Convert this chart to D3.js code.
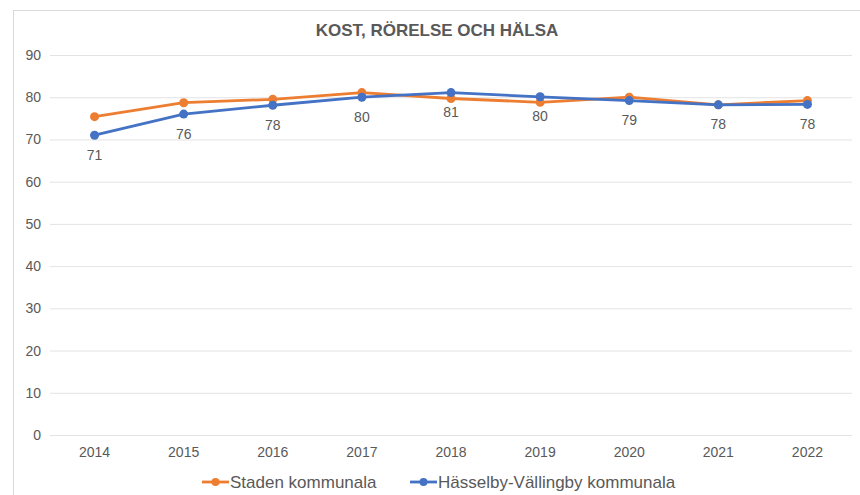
<!DOCTYPE html>
<html>
<head>
<meta charset="utf-8">
<script src="https://cdn.jsdelivr.net/npm/d3@7"></script>
<style>
  body { margin: 0; background: #fff; }
  svg { display: block; font-family: "Liberation Sans", Arial, sans-serif; }
</style>
</head>
<body>
<div id="chart"></div>
<script>
// chart data
const years = ['2014', '2015', '2016', '2017', '2018', '2019', '2020', '2021', '2022'];
const stadenValues = [75.4, 78.7, 79.5, 81.1, 79.7, 78.8, 80.0, 78.2, 79.2];
const hasselbyValues = [71.0, 76.0, 78.1, 80.0, 81.1, 80.1, 79.2, 78.2, 78.3];
const yTicks = [0, 10, 20, 30, 40, 50, 60, 70, 80, 90];
const seriesNames = ['Staden kommunala', 'Hässelby-Vällingby kommunala'];

const width = 860, height = 495;
const margin = { top: 55, right: 8, bottom: 60, left: 50 };
const colors = ['#ED7D31', '#4472C4'];
const textColor = '#595959';

const svg = d3.select('#chart')
    .append('svg')
    .attr('width', width)
    .attr('height', height);

// outer chart border (only left and top edges are visible in the frame)
svg.append('rect')
    .attr('x', 13.5)
    .attr('y', 10.5)
    .attr('width', width)
    .attr('height', height)
    .attr('fill', '#fff')
    .attr('stroke', '#d9d9d9');

const x = d3.scaleBand()
    .domain(years)
    .range([margin.left, width - margin.right])
    .padding(0);

const y = d3.scaleLinear()
    .domain([0, 90])
    .range([height - margin.bottom, margin.top]);

const cx = d => x(d) + x.bandwidth() / 2;

// title
svg.append('text')
    .attr('x', 437)
    .attr('y', 36)
    .attr('text-anchor', 'middle')
    .attr('fill', textColor)
    .style('font-size', '17px')
    .style('font-weight', 'bold')
    .text('KOST, RÖRELSE OCH HÄLSA');

// y axis + gridlines
const yAxis = svg.append('g')
    .attr('transform', `translate(${margin.left},0)`)
    .call(d3.axisLeft(y)
        .tickValues(yTicks)
        .tickSizeInner(-(width - margin.left - margin.right))
        .tickSizeOuter(0)
        .tickPadding(9));
yAxis.select('.domain').remove();
yAxis.selectAll('line').attr('stroke', '#e3e3e3');
yAxis.selectAll('text')
    .attr('fill', textColor)
    .style('font-size', '14px')
    .style('font-family', '"Liberation Sans", Arial, sans-serif');

// x axis
const xAxis = svg.append('g')
    .attr('transform', `translate(0,${y(0)})`)
    .call(d3.axisBottom(x).tickSize(0).tickPadding(12));
xAxis.select('.domain').remove();
xAxis.selectAll('text')
    .attr('fill', textColor)
    .style('font-size', '14px')
    .style('font-family', '"Liberation Sans", Arial, sans-serif');

const series = [
    { name: seriesNames[0], values: stadenValues, color: colors[0] },
    { name: seriesNames[1], values: hasselbyValues, color: colors[1] }
];

const line = d3.line()
    .x((d, i) => cx(years[i]))
    .y(d => y(d));

series.forEach(s => {
    svg.append('path')
        .datum(s.values)
        .attr('fill', 'none')
        .attr('stroke', s.color)
        .attr('stroke-width', 2.8)
        .attr('stroke-linejoin', 'round')
        .attr('d', line);

    svg.selectAll(null)
        .data(s.values)
        .enter()
        .append('circle')
        .attr('cx', (d, i) => cx(years[i]))
        .attr('cy', d => y(d))
        .attr('r', 4.5)
        .attr('fill', s.color);
});

// value labels below the Hässelby-Vällingby line
svg.selectAll('.label')
    .data(hasselbyValues)
    .enter()
    .append('text')
    .attr('class', 'label')
    .attr('x', (d, i) => cx(years[i]))
    .attr('y', d => y(d) + 24.5)
    .attr('text-anchor', 'middle')
    .attr('fill', textColor)
    .style('font-size', '14px')
    .text(d => d3.format('.0f')(d));

// legend
const legendItems = [
    { name: seriesNames[0], color: colors[0], x: 202 },
    { name: seriesNames[1], color: colors[1], x: 410 }
];
const legend = svg.append('g').attr('transform', 'translate(0,482)');
legendItems.forEach(item => {
    const g = legend.append('g').attr('transform', `translate(${item.x},0)`);
    g.append('line')
        .attr('x1', 0).attr('x2', 27)
        .attr('y1', 0).attr('y2', 0)
        .attr('stroke', item.color)
        .attr('stroke-width', 2.8);
    g.append('circle')
        .attr('cx', 13.5).attr('cy', 0)
        .attr('r', 4)
        .attr('fill', item.color);
    g.append('text')
        .attr('x', 28)
        .attr('y', 6)
        .attr('fill', textColor)
        .style('font-size', '17px')
        .text(item.name);
});
</script>
</body>
</html>
